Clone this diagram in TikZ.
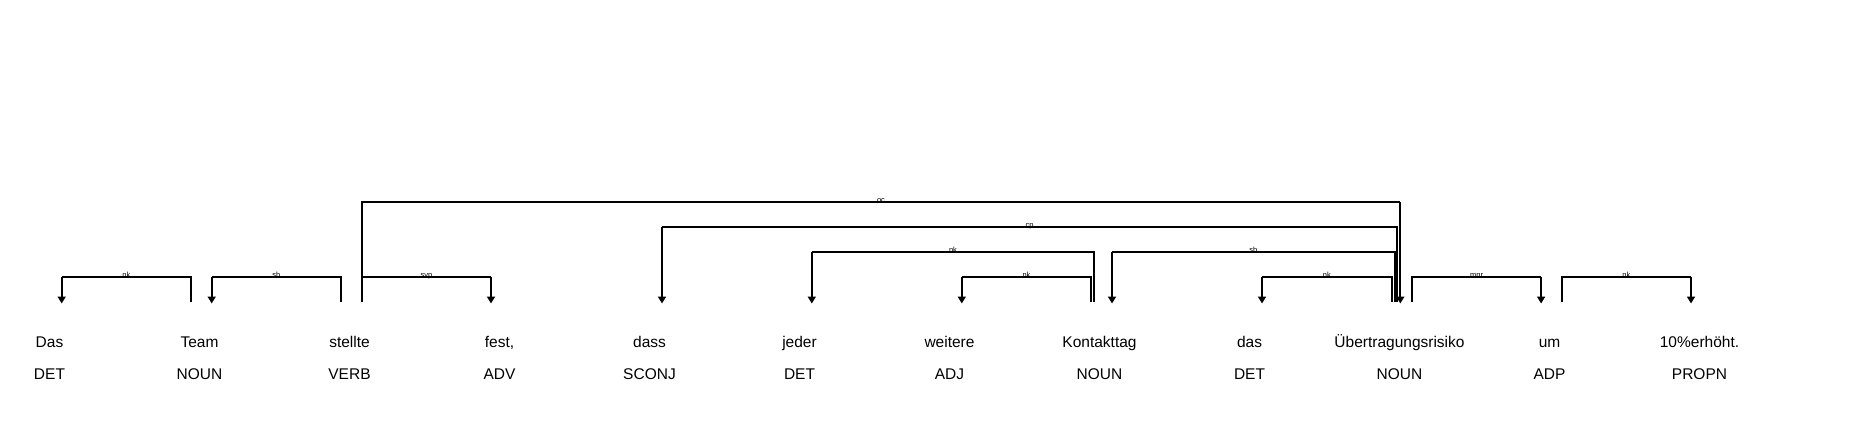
\documentclass[tikz,border=0pt]{standalone}
\usepackage{fontspec}
\setmainfont{Liberation Sans}
\usetikzlibrary{arrows.meta,calc}
\begin{document}
\begin{tikzpicture}[x=1pt,y=-1pt,
  wordbox/.style={anchor=base,inner sep=0pt,font=\fontsize{15.5}{16}\selectfont},
  posbox/.style={anchor=base,inner sep=0pt,font=\fontsize{15.5}{16}\selectfont},
  arcline/.style={line width=2pt},
  darc/.style={line width=2pt,-{Triangle[width=8pt,length=7pt]}},
  lab/.style={midway,anchor=base,inner sep=0pt,yshift=-0.6pt,font=\fontsize{7.5}{7.5}\selectfont}]
\useasboundingbox (0,0) rectangle (1850,437);
% words
\foreach \i/\w/\p in {1/Das/DET,2/Team/NOUN,3/stellte/VERB,4/{fest,}/ADV,5/dass/SCONJ,6/jeder/DET,7/weitere/ADJ,8/Kontakttag/NOUN,9/das/DET,10/Übertragungsrisiko/NOUN,11/um/ADP,12/10\%erhöht./PROPN}{
  \node[wordbox] (w\i) at ({49.5+150*(\i-1)},347.3) {\w};
  \node[posbox] (p\i) at ({49.5+150*(\i-1)},379) {\p};
}
% head ends (top = 301.7) and dependent ends (tip = 303.5)
\newcommand{\headc}[3]{\coordinate (#1) at ([xshift=#3pt,yshift=45.6pt]#2.base);}
\newcommand{\depc}[3]{\coordinate (#1) at ([xshift=#3pt,yshift=43.8pt]#2.base);}
% 1 nk Team -> Das
\headc{h1}{w2}{-8.5}\depc{d1}{w1}{12.2}
\draw[arcline] (h1) -- (h1 |- 0,277) -- node[lab]{nk} (d1 |- 0,277);
\draw[darc] (d1 |- 0,277) -- (d1);
% 2 sb stellte -> Team
\headc{h2}{w3}{-8.5}\depc{d2}{w2}{12.2}
\draw[arcline] (h2) -- (h2 |- 0,277) -- node[lab]{sb} (d2 |- 0,277);
\draw[darc] (d2 |- 0,277) -- (d2);
% 3 svp stellte -> fest
\headc{h3}{w3}{12.2}\depc{d3}{w4}{-8.5}
\draw[arcline] (h3) -- (h3 |- 0,277) -- node[lab]{svp} (d3 |- 0,277);
\draw[darc] (d3 |- 0,277) -- (d3);
% 4 oc stellte -> Uebertragungsrisiko
\headc{h4}{w3}{12.2}\depc{d4}{w10}{0.8}
\draw[arcline] (h4) -- (h4 |- 0,202) -- node[lab]{oc} (d4 |- 0,202);
\draw[darc] (d4 |- 0,202) -- (d4);
% 5 cp Ue -> dass
\headc{h5}{w10}{-2.3}\depc{d5}{w5}{12.5}
\draw[arcline] (h5) -- (h5 |- 0,226.7) -- node[lab]{cp} (d5 |- 0,226.7);
\draw[darc] (d5 |- 0,226.7) -- (d5);
% 6 nk Kontakttag -> jeder
\headc{h6}{w8}{-5.3}\depc{d6}{w6}{12.3}
\draw[arcline] (h6) -- (h6 |- 0,251.7) -- node[lab]{nk} (d6 |- 0,251.7);
\draw[darc] (d6 |- 0,251.7) -- (d6);
% 7 nk Kontakttag -> weitere
\headc{h7}{w8}{-8.3}\depc{d7}{w7}{12.3}
\draw[arcline] (h7) -- (h7 |- 0,277) -- node[lab]{nk} (d7 |- 0,277);
\draw[darc] (d7 |- 0,277) -- (d7);
% 8 sb Ue -> Kontakttag
\headc{h8}{w10}{-5}\depc{d8}{w8}{12.5}
\draw[arcline] (h8) -- (h8 |- 0,251.7) -- node[lab]{sb} (d8 |- 0,251.7);
\draw[darc] (d8 |- 0,251.7) -- (d8);
% 9 nk Ue -> das
\headc{h9}{w10}{-7.7}\depc{d9}{w9}{12.5}
\draw[arcline] (h9) -- (h9 |- 0,277) -- node[lab]{nk} (d9 |- 0,277);
\draw[darc] (d9 |- 0,277) -- (d9);
% 10 mnr Ue -> um
\headc{h10}{w10}{12.6}\depc{d10}{w11}{-8.4}
\draw[arcline] (h10) -- (h10 |- 0,277) -- node[lab]{mnr} (d10 |- 0,277);
\draw[darc] (d10 |- 0,277) -- (d10);
% 11 nk um -> 10%erhoeht.
\headc{h11}{w11}{12.3}\depc{d11}{w12}{-8.5}
\draw[arcline] (h11) -- (h11 |- 0,277) -- node[lab]{nk} (d11 |- 0,277);
\draw[darc] (d11 |- 0,277) -- (d11);
\end{tikzpicture}
\end{document}
